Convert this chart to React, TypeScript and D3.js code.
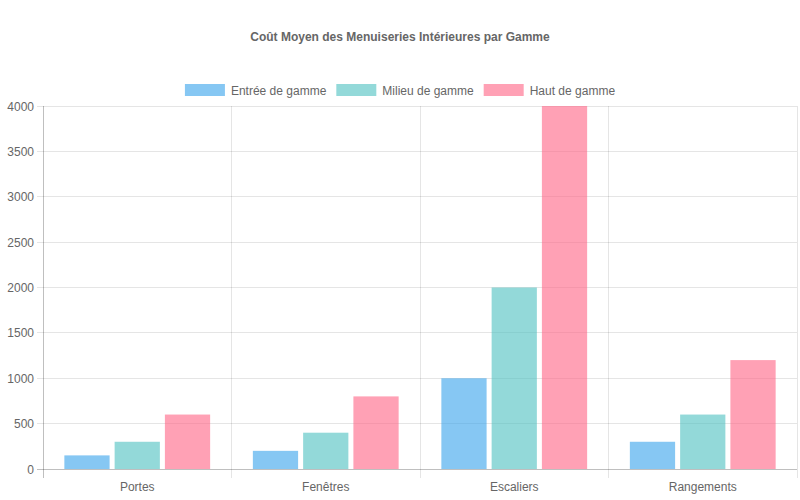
import React, { useEffect, useRef } from 'react';
import * as d3 from 'd3';

const categories = ['Portes', 'Fenêtres', 'Escaliers', 'Rangements'];
const seriesNames = ['Entrée de gamme', 'Milieu de gamme', 'Haut de gamme'];
const entreeValues = [150, 200, 1000, 300];
const milieuValues = [300, 400, 2000, 600];
const hautValues = [600, 800, 4000, 1200];
const yTicks = [0, 500, 1000, 1500, 2000, 2500, 3000, 3500, 4000];

const colors = ['rgba(54,162,235,0.6)', 'rgba(75,192,192,0.6)', 'rgba(255,99,132,0.6)'];
const font = '"Liberation Sans", Arial, Helvetica, sans-serif';

export default function App() {
  const ref = useRef<SVGSVGElement>(null);

  useEffect(() => {
    draw();
  }, []);

  function draw() {
    const width = 800;
    const height = 500;
    const margin = { top: 106, right: 3, bottom: 31, left: 43 };
    const series = [entreeValues, milieuValues, hautValues];

    const svg = d3.select(ref.current);
    svg.selectAll('*').remove();

    const x = d3.scaleBand().domain(categories).range([margin.left, width - margin.right]);
    const y = d3.scaleLinear().domain([0, 4000]).range([height - margin.bottom, margin.top]);
    const inner = d3.scaleBand().domain(seriesNames).range([0, x.bandwidth()]).paddingOuter(0.125 / 0.8 * 0.8);
    const slot = x.bandwidth() * 0.8 / 3;
    const barW = slot * 0.9;

    // title
    svg.append('text')
      .attr('x', width / 2)
      .attr('y', 41)
      .attr('text-anchor', 'middle')
      .attr('font-family', font)
      .attr('font-size', 12)
      .attr('font-weight', 'bold')
      .attr('fill', '#666')
      .text('Coût Moyen des Menuiseries Intérieures par Gamme');

    // legend
    const legend = svg.append('g');
    let lx = 0;
    seriesNames.forEach((name, i) => {
      const g = legend.append('g').attr('transform', `translate(${lx},0)`);
      g.append('rect')
        .attr('x', 0).attr('y', 84).attr('width', 40).attr('height', 12)
        .attr('fill', colors[i]);
      const t = g.append('text')
        .attr('x', 46).attr('y', 94.5)
        .attr('font-family', font).attr('font-size', 12).attr('fill', '#666')
        .text(name);
      const tw = (t.node() as SVGTextElement).getComputedTextLength();
      lx += 46 + tw + 10;
    });
    legend.attr('transform', `translate(${(width - (lx - 10)) / 2},0)`);

    // horizontal grid
    svg.append('g')
      .selectAll('line')
      .data(yTicks)
      .enter()
      .append('line')
      .attr('x1', margin.left - 6)
      .attr('x2', width - margin.right)
      .attr('y1', (d) => y(d))
      .attr('y2', (d) => y(d))
      .attr('stroke', (d) => (d === 0 ? 'rgba(0,0,0,0.25)' : 'rgba(0,0,0,0.1)'))
      .attr('stroke-width', 1)
      .attr('shape-rendering', 'crispEdges');

    // vertical grid
    const edges = categories.map((c) => x(c) as number).concat([width - margin.right]);
    svg.append('g')
      .selectAll('line')
      .data(edges)
      .enter()
      .append('line')
      .attr('x1', (d) => d)
      .attr('x2', (d) => d)
      .attr('y1', margin.top)
      .attr('y2', height - margin.bottom + 9)
      .attr('stroke', (d, i) => (i === 0 ? 'rgba(0,0,0,0.25)' : 'rgba(0,0,0,0.1)'))
      .attr('shape-rendering', 'crispEdges');

    // y labels
    svg.append('g')
      .selectAll('text')
      .data(yTicks)
      .enter()
      .append('text')
      .attr('x', margin.left - 9)
      .attr('y', (d) => y(d) + 4.5)
      .attr('text-anchor', 'end')
      .attr('font-family', font)
      .attr('font-size', 12)
      .attr('fill', '#666')
      .text((d) => d);

    // x labels
    svg.append('g')
      .selectAll('text')
      .data(categories)
      .enter()
      .append('text')
      .attr('x', (d) => (x(d) as number) + x.bandwidth() / 2)
      .attr('y', height - margin.bottom + 22)
      .attr('text-anchor', 'middle')
      .attr('font-family', font)
      .attr('font-size', 12)
      .attr('fill', '#666')
      .text((d) => d);

    // bars
    series.forEach((vals, si) => {
      svg.append('g')
        .selectAll('rect')
        .data(vals)
        .enter()
        .append('rect')
        .attr('x', (d, i) => (x(categories[i]) as number) + x.bandwidth() * 0.1 + slot * si + (slot - barW) / 2)
        .attr('y', (d) => y(d))
        .attr('width', barW)
        .attr('height', (d) => y(0) - y(d))
        .attr('fill', colors[si]);
    });
    void inner;
  }

  return (
    <div style={{ position: 'absolute', left: 0, top: 0 }}>
      <svg ref={ref} width={800} height={500} style={{ display: 'block' }} />
    </div>
  );
}
